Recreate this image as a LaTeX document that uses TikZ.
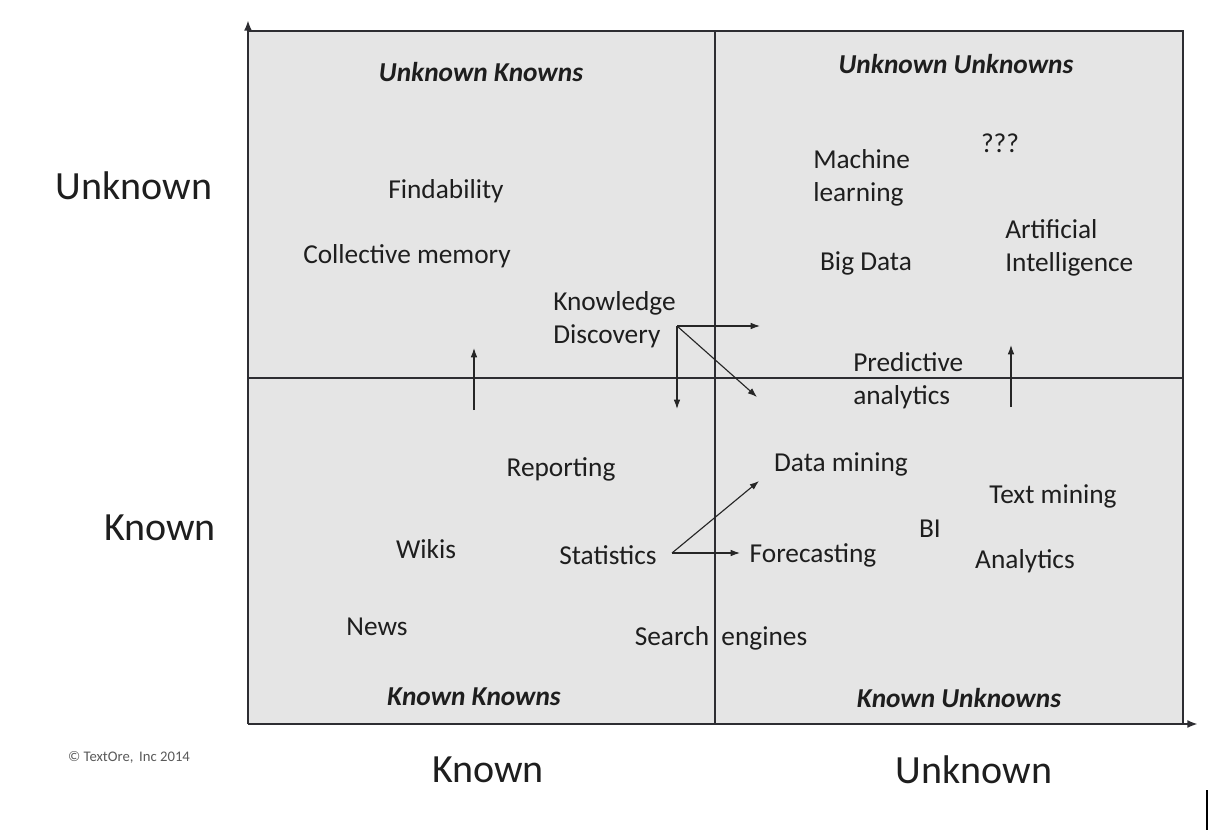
\documentclass[tikz,border=0pt]{standalone}
\usepackage{fontspec}
\setmainfont{Carlito}
\usetikzlibrary{arrows.meta}
\definecolor{boxfill}{RGB}{229,229,229}
\definecolor{edge}{RGB}{45,45,50}
\definecolor{txt}{RGB}{30,30,30}
\begin{document}
\begin{tikzpicture}[x=0.75pt,y=-0.75pt,
  lbl/.style={font=\fontsize{20.5}{24.75}\selectfont, text=txt, inner sep=0pt, align=left},
  head/.style={font=\fontsize{20.5}{24}\selectfont\bfseries\itshape, text=txt, inner sep=0pt},
  axis lbl/.style={font=\fontsize{30}{36}\selectfont, text=txt, inner sep=0pt},
  conn/.style={line width=0.85pt, draw=black!85, -{Latex[length=7pt,width=5pt]}},
  divider/.style={line width=1.7pt, draw=edge}]
\useasboundingbox (0,0) rectangle (1208,832);
% quadrant background
\fill[boxfill] (248,31) rectangle (1183,724);
\draw[divider] (248,31) -- (1183,31) -- (1183,724);
\draw[divider] (715,31) -- (715,724);
\draw[divider] (248,378) -- (1183,378);
% axes
\coordinate (origin) at (248,724);
\coordinate (ytop) at (248,20);
\coordinate (xend) at (1198,724);
\draw[line width=1.7pt, draw=edge, -{Latex[length=8pt,width=6pt]}] (origin) -- (ytop);
\draw[line width=1.7pt, draw=edge, -{Latex[length=8pt,width=6pt]}] (origin) -- (xend);
% axis labels
\node[axis lbl] (yunk) at (134,186) {Unknown};
\node[axis lbl] (ykn) at (160,528) {Known};
\node[axis lbl] (xkn) at (488,770) {Known};
\node[axis lbl] (xunk) at (974,770) {Unknown};
\node[font=\fontsize{11}{13}\selectfont, text=black!65, inner sep=0pt] (copy) at (129,757) {© TextOre,\, Inc 2014};
% headings
\node[head] (uk) at (481,72) {Unknown Knowns};
\node[head] (uu) at (956,64) {Unknown Unknowns};
\node[head] (kk) at (474,697) {Known Knowns};
\node[head] (ku) at (959,698) {Known Unknowns};
% labels
\node[lbl] (find) at (446,191) {Findability};
\node[lbl] (coll) at (407,256) {Collective memory};
\node[lbl, anchor=west] (kd) at (553,320) {Knowledge\\Discovery};
\node[lbl, anchor=west] (ml) at (813,178) {Machine\\learning};
\node[lbl] (qqq) at (1000,143) {???};
\node[lbl, anchor=west] (ai) at (1005,248) {Arti{}ficial\\Intelligence};
\node[lbl] (bd) at (866,263) {Big Data};
\node[lbl, anchor=west] (pa) at (853,381) {Predictive\\analytics};
\node[lbl] (rep) at (561,469) {Reporting};
\node[lbl] (dm) at (841,464) {Data mining};
\node[lbl] (tm) at (1053,496) {Text mining};
\node[lbl] (bi) at (930,529) {BI};
\node[lbl] (wik) at (426,549) {Wikis};
\node[lbl] (stat) at (608,555) {Statistics};
\node[lbl] (fore) at (813,555) {Forecasting};
\node[lbl] (ana) at (1025,561) {Analytics};
\node[lbl] (news) at (377,627) {News};
\node[lbl] (se) at (721,638) {Search\ \ engines};
% connectors
\coordinate (kdo) at (677,326);
\coordinate (kdr) at (760,326);
\coordinate (kdd) at (677,409);
\coordinate (kdx) at (757,397);
\draw[conn] (kdo) -- (kdr);
\draw[conn] (kdo) -- (kdd);
\draw[conn] (kdo) -- (kdx);
\coordinate (sto) at (672,553);
\coordinate (str) at (740,553);
\coordinate (stu) at (759,481);
\draw[conn] (sto) -- (str);
\draw[conn] (sto) -- (stu);
\coordinate (u1a) at (474,410);
\coordinate (u1b) at (474,348);
\coordinate (u2a) at (1011,407);
\coordinate (u2b) at (1011,345);
\draw[conn] (u1a) -- (u1b);
\draw[conn] (u2a) -- (u2b);
% stray mark
\coordinate (ma) at (1207,790);
\coordinate (mb) at (1207,830);
\draw[line width=1pt] (ma) -- (mb);
\end{tikzpicture}
\end{document}
